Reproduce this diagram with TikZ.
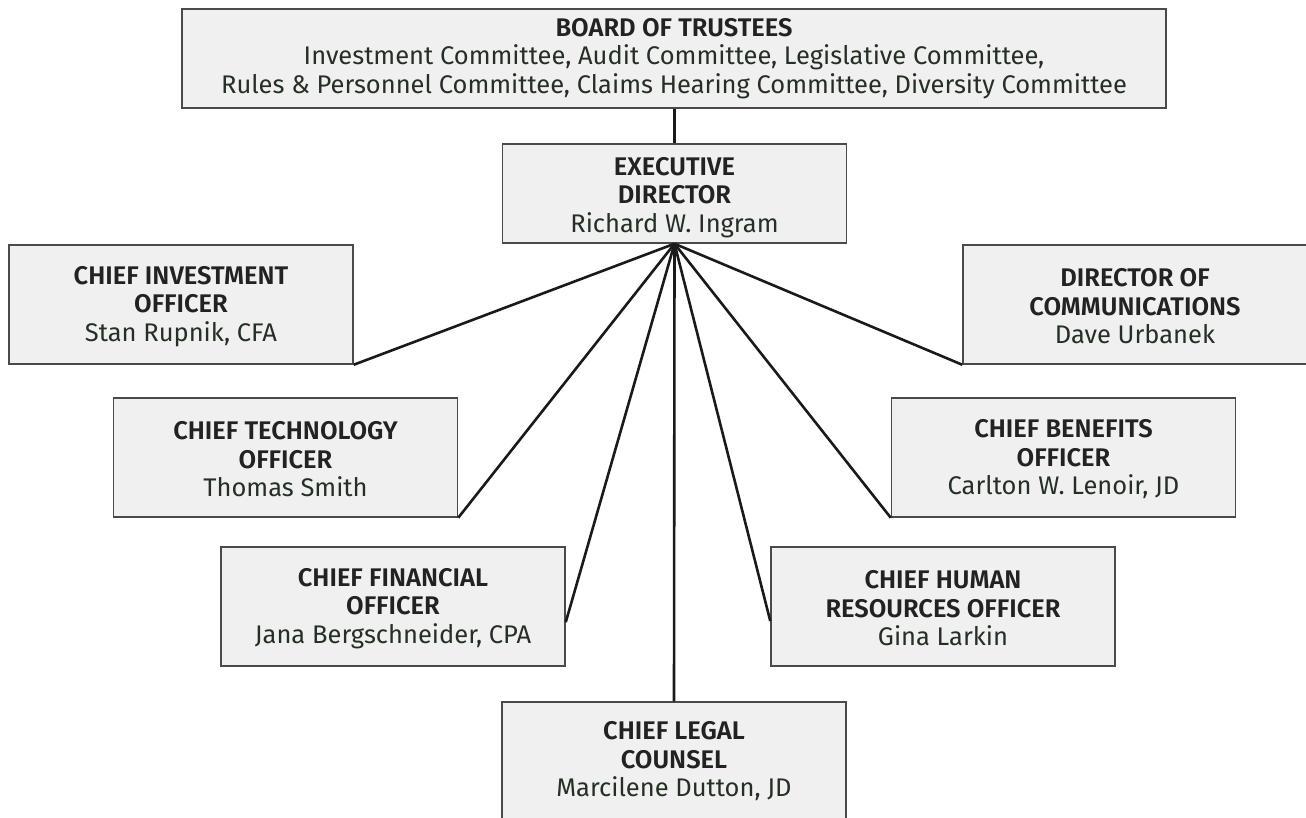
\documentclass[tikz,border=0pt]{standalone}
\usepackage{fontspec}
\setmainfont{Fira Sans}[BoldFont={Fira Sans SemiBold}]
\usetikzlibrary{calc}
\definecolor{boxfill}{HTML}{F0F0F0}
\definecolor{boxline}{HTML}{4A4A4A}
\definecolor{titlecol}{HTML}{222222}
\definecolor{namecol}{HTML}{243024}
\definecolor{conncol}{HTML}{1A1A1A}
\newcommand{\ttl}[1]{{\bfseries\color{titlecol}#1}}
\newcommand{\nm}[1]{{\color{namecol}#1}}
\newcommand{\tstrut}{\rule{0pt}{22pt}}
\begin{document}
\begin{tikzpicture}[x=1pt,y=-1pt,
  orgbox/.style={draw=boxline, fill=boxfill, line width=1.5pt, rectangle,
    minimum width=344pt, minimum height=119pt, inner sep=0pt, align=center,
    font=\fontsize{25.5}{28.5}\selectfont},
  conn/.style={draw=conncol, line width=2.6pt}]
\clip (0,0) rectangle (1306,818);
\node[orgbox, minimum width=984pt, minimum height=99pt] (board) at (674,58.5)
  {\ttl{BOARD OF TRUSTEES}\\\nm{Investment Committee, Audit Committee, Legislative Committee,}\\\nm{Rules \& Personnel Committee, Claims Hearing Committee, Diversity Committee}};
\node[orgbox, minimum height=99pt] (exec) at (674.5,193.5)
  {\rule{0pt}{25.5pt}\ttl{EXECUTIVE}\\\ttl{DIRECTOR}\\\nm{Richard W. Ingram}};
\node[orgbox] (cio) at (181,304.5)
  {\tstrut\ttl{CHIEF INVESTMENT}\\\ttl{OFFICER}\\\nm{Stan Rupnik, CFA}};
\node[orgbox] (comms) at (1135,304.5)
  {\tstrut\ttl{DIRECTOR OF}\\\ttl{COMMUNICATIONS}\\\nm{Dave Urbanek}};
\node[orgbox] (cto) at (285.5,457.5)
  {\tstrut\ttl{CHIEF TECHNOLOGY}\\\ttl{OFFICER}\\\nm{Thomas Smith}};
\node[orgbox] (cbo) at (1063.5,457.5)
  {\tstrut\ttl{CHIEF BENEFITS}\\\ttl{OFFICER}\\\nm{Carlton W. Lenoir, JD}};
\node[orgbox] (cfo) at (393,606.5)
  {\tstrut\ttl{CHIEF FINANCIAL}\\\ttl{OFFICER}\\\nm{Jana Bergschneider, CPA}};
\node[orgbox] (chro) at (943,606.5)
  {\tstrut\ttl{CHIEF HUMAN}\\\ttl{RESOURCES OFFICER}\\\nm{Gina Larkin}};
\node[orgbox] (legal) at (674,761.5)
  {\ttl{CHIEF LEGAL}\\\ttl{COUNSEL}\\\nm{Marcilene Dutton, JD}};
\draw[conn] (exec.north) -- (exec.north |- board.south);
\draw[conn] (exec.south) -- (cio.south east);
\draw[conn] (exec.south) -- (comms.south west);
\draw[conn] (exec.south) -- (cto.south east);
\draw[conn] (exec.south) -- (cbo.south west);
\draw[conn] (exec.south) -- ($(cfo.south east)!0.37!(cfo.north east)$);
\draw[conn] (exec.south) -- ($(chro.south west)!0.38!(chro.north west)$);
\draw[conn] (exec.south) -- (legal.north);
\end{tikzpicture}
\end{document}
